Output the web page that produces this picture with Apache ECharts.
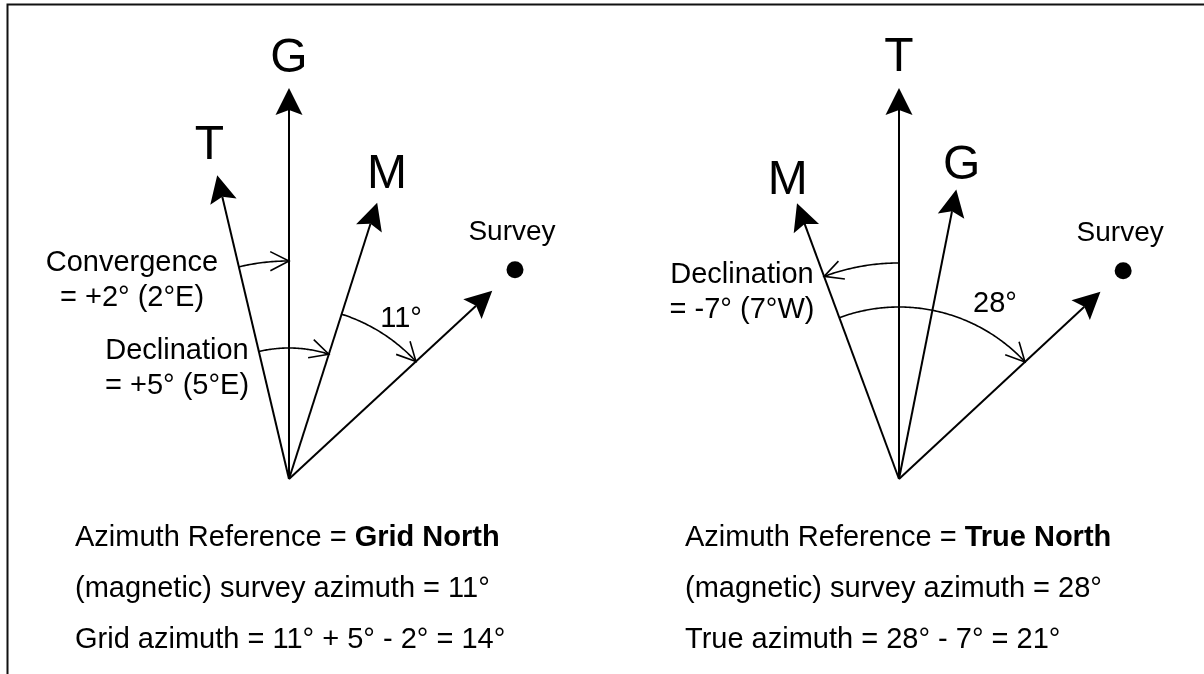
<!DOCTYPE html>
<html>
<head>
<meta charset="utf-8">
<script src="https://cdn.jsdelivr.net/npm/echarts@6/dist/echarts.min.js"></script>
<style>
  html, body { margin: 0; padding: 0; background: #fff; }
  #chart { width: 1204px; height: 674px; }
</style>
</head>
<body>
<div id="chart"></div>
<script>
/* ---------------------------------- Data ---------------------------------- */
// one panel per azimuth reference
const panelNames = ['Grid North', 'True North'];
const arrowNames = [
  ['G', 'T', 'M', 'Survey'],
  ['T', 'M', 'G', 'Survey']
];
// directions as drawn, degrees clockwise from straight up
const arrowBearings = [
  [0, -13.3, 17.7, 47.2],
  [0, -20.3, 11.2, 47.1]
];
// angles written on the drawing
const surveyAzimuth = [11, 28];
const declination = [5, -7];
const convergence = [2, 0];
const azimuthTerms = [[11, 5, -2], [28, -7]];
const resultNames = ['Grid azimuth', 'True azimuth'];

/* --------------------------------- Layout --------------------------------- */
const FONT = "'Liberation Sans', Arial, sans-serif";
const INK = '#000';

const signedDeg = v => (v < 0 ? '-' : '+') + Math.abs(v) + '°';
const cardinal = v => `= ${signedDeg(v)} (${Math.abs(v)}°${v < 0 ? 'W' : 'E'})`;

const layout = [
  {
    center: [289, 479],
    lengths: [391, 312, 290, 277],
    labelGap: [32, 34, 32, 31],
    arcs: [
      { from: 1, to: 0, r: 218, text: 'Convergence\n' + cardinal(convergence[0]), at: [-157, -199] },
      { from: 1, to: 2, r: 131, text: 'Declination\n' + cardinal(declination[0]), at: [-112, -111] },
      { from: 2, to: 3, r: 173, text: surveyAzimuth[0] + '°', at: [112, -160] }
    ],
    textLeft: 75
  },
  {
    center: [899, 479],
    lengths: [391, 294, 295, 275],
    labelGap: [33, 27, 27, 31],
    arcs: [
      { from: 0, to: 1, r: 216, text: 'Declination\n' + cardinal(declination[1]), at: [-157, -187] },
      { from: 1, to: 3, r: 172, text: surveyAzimuth[1] + '°', at: [96, -175] }
    ],
    textLeft: 685
  }
];

/* ---------------------------------- Utils --------------------------------- */
const norm = b => ((b % 360) + 360) % 360;
const unit = (a, b) => {
  const dx = b[0] - a[0];
  const dy = b[1] - a[1];
  const l = Math.hypot(dx, dy) || 1;
  return [dx / l, dy / l];
};
const rot = (v, deg) => {
  const t = (deg * Math.PI) / 180;
  return [v[0] * Math.cos(t) - v[1] * Math.sin(t), v[0] * Math.sin(t) + v[1] * Math.cos(t)];
};

/* -------------------------------- Renderers ------------------------------- */
const arrowRenderer = p => (params, api) => {
  const i = params.dataIndex;
  const len = api.value(0);
  const b = norm(api.value(1));
  const o = api.coord([0, b]);
  const tip = api.coord([len, b]);
  const u = unit(o, tip);
  const n = [-u[1], u[0]];
  const L = 27, W = 13.5, notch = 5;
  const back = [tip[0] - u[0] * (L - notch), tip[1] - u[1] * (L - notch)];
  const children = [
    {
      type: 'line',
      shape: { x1: o[0], y1: o[1], x2: back[0], y2: back[1] },
      style: { stroke: INK, lineWidth: 2 }
    },
    {
      type: 'polygon',
      shape: {
        points: [
          tip,
          [tip[0] - u[0] * L + n[0] * W, tip[1] - u[1] * L + n[1] * W],
          back,
          [tip[0] - u[0] * L - n[0] * W, tip[1] - u[1] * L - n[1] * W]
        ]
      },
      style: { fill: INK }
    }
  ];
  const name = arrowNames[p.index][i];
  const lp = api.coord([len + p.layout.labelGap[i], b]);
  if (name === 'Survey') {
    children.push({ type: 'circle', shape: { cx: lp[0], cy: lp[1], r: 8.5 }, style: { fill: INK } });
    children.push({
      type: 'text', x: lp[0] - 3, y: lp[1] - 37,
      style: { text: name, fill: INK, fontSize: 28, fontFamily: FONT, align: 'center', verticalAlign: 'middle' }
    });
  } else {
    children.push({
      type: 'text', x: lp[0], y: lp[1] + 3,
      style: { text: name, fill: INK, fontSize: 48, fontFamily: FONT, align: 'center', verticalAlign: 'middle' }
    });
  }
  return { type: 'group', children };
};

const arcRenderer = p => (params, api) => {
  const arc = p.layout.arcs[params.dataIndex];
  const r = api.value(0);
  const a0 = api.value(1);
  const a1 = api.value(2);
  const steps = Math.max(8, Math.ceil(Math.abs(a1 - a0) * 2));
  const pts = [];
  for (let k = 0; k <= steps; k++) {
    pts.push(api.coord([r, norm(a0 + ((a1 - a0) * k) / steps)]));
  }
  const end = pts[pts.length - 1];
  const d = unit(end, pts[pts.length - 3]);
  const h1 = rot(d, 27);
  const h2 = rot(d, -27);
  const o = api.coord([0, 0]);
  return {
    type: 'group',
    children: [
      { type: 'polyline', shape: { points: pts }, style: { stroke: INK, lineWidth: 1.6, fill: null } },
      {
        type: 'polyline',
        shape: { points: [[end[0] + h1[0] * 21, end[1] + h1[1] * 21], end, [end[0] + h2[0] * 21, end[1] + h2[1] * 21]] },
        style: { stroke: INK, lineWidth: 1.6, fill: null }
      },
      {
        type: 'text', x: o[0] + arc.at[0], y: o[1] + arc.at[1],
        style: {
          text: arc.text, fill: INK, fontSize: 29, fontFamily: FONT, lineHeight: 35,
          align: 'center', verticalAlign: 'middle'
        }
      }
    ]
  };
};

/* --------------------------------- Options -------------------------------- */
const termsText = terms =>
  terms.map((v, k) => (k === 0 ? v + '°' : (v < 0 ? '- ' : '+ ') + Math.abs(v) + '°')).join(' ');

const series = [];
layout.forEach((lay, i) => {
  const p = { index: i, layout: lay };
  series.push({
    type: 'custom',
    coordinateSystem: 'polar',
    polarIndex: i,
    silent: true,
    renderItem: arrowRenderer(p),
    data: arrowBearings[i].map((b, k) => [lay.lengths[k], b])
  });
  series.push({
    type: 'custom',
    coordinateSystem: 'polar',
    polarIndex: i,
    silent: true,
    renderItem: arcRenderer(p),
    data: lay.arcs.map(a => [a.r, arrowBearings[i][a.from], arrowBearings[i][a.to]])
  });
});

const option = {
  animation: false,
  backgroundColor: '#fff',
  polar: layout.map(l => ({ center: l.center, radius: 400 })),
  radiusAxis: layout.map((l, i) => ({
    polarIndex: i, type: 'value', min: 0, max: 400, show: false,
    axisLine: { show: false }, splitLine: { show: false }, axisLabel: { show: false }
  })),
  angleAxis: layout.map((l, i) => ({
    polarIndex: i, type: 'value', min: 0, max: 360, startAngle: 90, clockwise: true, show: false,
    axisLine: { show: false }, splitLine: { show: false }, axisLabel: { show: false }, axisTick: { show: false }
  })),
  title: layout.map((l, i) => ({
    left: l.textLeft,
    top: 512,
    padding: 0,
    text: [
      `Azimuth Reference = {b|${panelNames[i]}}`,
      `(magnetic) survey azimuth = ${surveyAzimuth[i]}°`,
      `${resultNames[i]} = ${termsText(azimuthTerms[i])} = ${azimuthTerms[i].reduce((s, v) => s + v, 0)}°`
    ].join('\n'),
    textStyle: {
      color: INK, fontFamily: FONT, fontSize: 29, fontWeight: 'normal', lineHeight: 51,
      rich: { b: { fontFamily: FONT, fontSize: 29, fontWeight: 'bold', lineHeight: 51, color: INK } }
    }
  })),
  graphic: [
    {
      type: 'polyline',
      shape: { points: [[7.5, 674], [7.5, 4.5], [1204, 4.5]] },
      style: { stroke: '#111', lineWidth: 2, fill: null }
    }
  ],
  series
};

const chart = echarts.init(document.getElementById('chart'));
chart.setOption(option);
</script>
</body>
</html>
